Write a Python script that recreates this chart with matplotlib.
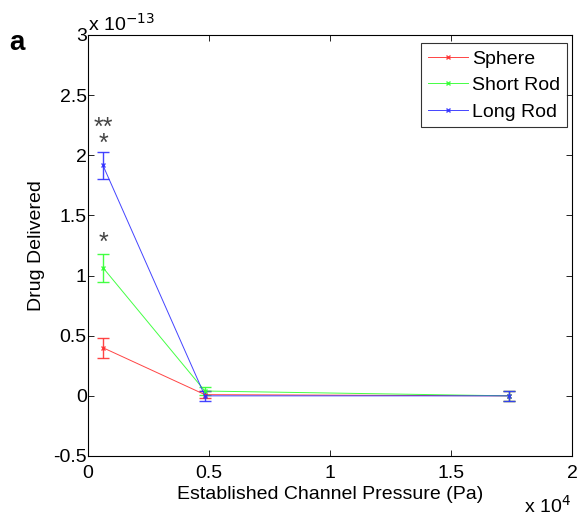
import matplotlib
matplotlib.use("Agg")
import matplotlib.pyplot as plt
from matplotlib.lines import Line2D
from matplotlib.ticker import FuncFormatter

plt.rcParams['font.family'] = ['Liberation Sans', 'DejaVu Sans']

# pressures (Pa) and drug delivered (x 1e-13)
pressure = [620, 4830, 17400]
sphere = [0.40, 0.01, 0.0]
sphere_err = [0.085, 0.03, 0.04]
short_rod = [1.065, 0.04, 0.0]
short_rod_err = [0.115, 0.03, 0.04]
long_rod = [1.915, 0.0, 0.0]
long_rod_err = [0.115, 0.04, 0.04]

series = [("Sphere", sphere, sphere_err, "#ff3030"),
          ("Short Rod", short_rod, short_rod_err, "#30ff30"),
          ("Long Rod", long_rod, long_rod_err, "#3030ff")]

fig = plt.figure(figsize=(5.81, 5.19), dpi=100)
ax = fig.add_axes([0.1515, 0.1214, 0.833, 0.8112])

handles = []
for name, vals, err, col in series:
    ax.errorbar(pressure, vals, yerr=err, color=col, lw=0.7, marker="x",
                ms=3.5, mew=1.0, capsize=4, elinewidth=1.0, capthick=1.0,
                alpha=0.9)
    handles.append(Line2D([], [], color=col, lw=0.7, marker="x", ms=3.5,
                          mew=1.0, alpha=0.9, label=name))

# significance stars
ax.text(pressure[0], 2.16, "**\n*", ha="center", va="center", fontsize=18,
        color="#444444", linespacing=0.6)
ax.text(pressure[0], 1.27, "*", ha="center", va="center", fontsize=18, color="#444444")

ax.set_xlim(0, 20000)
ax.set_ylim(-0.5, 3)
ax.set_xticks([0, 5000, 10000, 15000, 20000])
ax.set_yticks([-0.5, 0, 0.5, 1, 1.5, 2, 2.5, 3])
ax.xaxis.set_major_formatter(FuncFormatter(lambda v, p: "%g" % (v / 1e4)))
ax.yaxis.set_major_formatter(FuncFormatter(lambda v, p: "%g" % v))
ax.tick_params(direction="in", top=True, right=True, length=4, width=0.6,
               labelsize=14)
ax.tick_params(axis="x", pad=6.5)
ax.tick_params(axis="y", pad=1)
for s in ax.spines.values():
    s.set_linewidth(0.8)

ax.set_xlabel("Established Channel Pressure (Pa)", fontsize=14, labelpad=3)
ax.set_ylabel("Drug Delivered", fontsize=14, labelpad=6)

ax.text(0.0, 1.0, r"x 10$^{-13}$", transform=ax.transAxes, fontsize=14,
        ha="left", va="bottom")
ax.text(0.998, -0.092, r"x 10$^{4}$", transform=ax.transAxes, fontsize=14,
        ha="right", va="top")
fig.text(0.016, 0.918, "a", fontsize=20, fontweight="bold", ha="left", va="center")

leg = ax.legend(handles=handles, loc="upper right", bbox_to_anchor=(0.99, 0.98),
                fontsize=14, frameon=True, fancybox=False, edgecolor="black",
                borderaxespad=0, handlelength=2.1, handletextpad=0.2,
                labelspacing=0.45, borderpad=0.35)
leg.get_frame().set_linewidth(0.8)

fig.savefig("out.png", dpi=100)
